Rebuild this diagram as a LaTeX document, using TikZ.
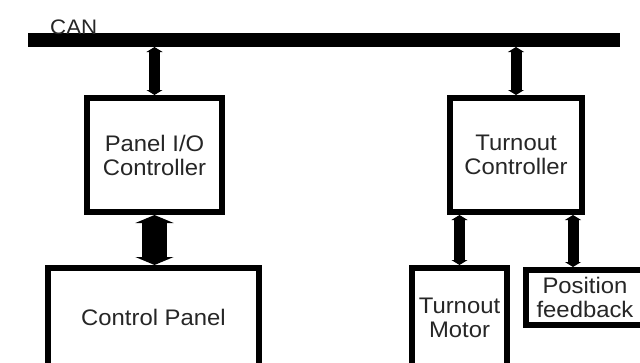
\documentclass[tikz,border=0pt]{standalone}
\usepackage{fontspec}
\setmainfont{Liberation Sans}[FakeStretch=1.06]
\usetikzlibrary{arrows.meta}
\begin{document}
\begin{tikzpicture}[x=1pt,y=-1pt,
 box/.style={draw=black, line width=6pt, fill=white, inner sep=0pt, align=center,
   font=\fontsize{22.5}{24}\selectfont, text=black!85},
 link/.style={line width=11pt, {Triangle[width=16pt,length=5pt]}-{Triangle[width=16pt,length=5pt]}},
 biglink/.style={line width=25pt, {Triangle[width=38pt,length=8pt]}-{Triangle[width=38pt,length=8pt]}}]
\useasboundingbox (0,0) rectangle (640,362);
\clip (0,0) rectangle (640,362);
\fill[white] (0,0) rectangle (640,362);
% bus
\node[fill=black, minimum width=592pt, minimum height=14pt, inner sep=0pt, outer sep=0pt] (can) at (324,40) {};
\node[anchor=base west, inner sep=0pt, font=\fontsize{21}{24}\selectfont, text=black!85] (canlabel) at (50,34) {CAN};
% boxes
\node[box, minimum width=135pt, minimum height=114pt] (pio) at (154.5,155) {Panel I/O\\Controller};
\node[box, minimum width=132pt, minimum height=114pt] (tc) at (516,155) {Turnout\\Controller};
\node[box, minimum width=211pt, minimum height=99pt] (cp) at (153.5,317.5) {Control Panel};
\node[box, minimum width=95pt, minimum height=99pt] (tm) at (459.5,317.5) {Turnout\\Motor};
\node[box, minimum width=118pt, minimum height=55pt] (pf) at (585,297.5) {Position\\feedback};
% connectors
\draw[link] (can.south -| pio.north) -- (pio.north);
\draw[link] (can.south -| tc.north) -- (tc.north);
\draw[biglink] (pio.south) -- (pio.south |- cp.north);
\coordinate (tmtop) at (tm.north);
\draw[link] (tc.south -| tmtop) -- (tm.north);
\coordinate (pftop) at ([xshift=-12pt]pf.north);
\draw[link] (tc.south -| pftop) -- (pftop);
\end{tikzpicture}
\end{document}
